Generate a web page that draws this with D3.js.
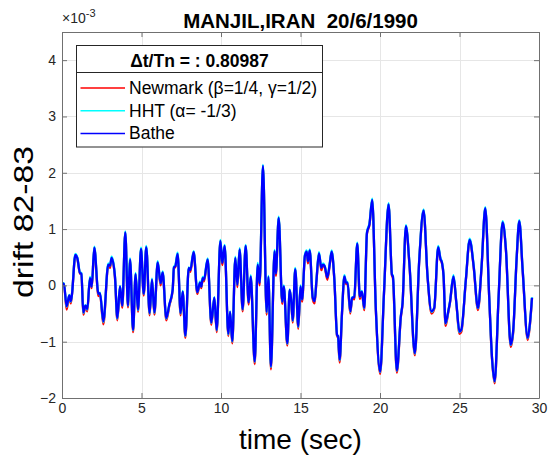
<!DOCTYPE html>
<html>
<head>
<meta charset="utf-8">
<script src="https://cdn.jsdelivr.net/npm/d3@7"></script>
<style>
  body { margin: 0; background: #fff; }
  svg { display: block; font-family: "Liberation Sans", Arial, Helvetica, sans-serif; }
</style>
</head>
<body>
<div id="chart"></div>
<script>
// time (sec)
const time = [0,0.12,0.29,0.46,0.55,0.62,0.84,0.96,1.13,1.22,
  1.34,1.47,1.59,1.76,1.87,2.03,2.29,2.39,2.6,2.91,
  3.02,3.12,3.33,3.48,3.65,3.79,3.98,4.15,4.28,4.47,
  4.63,4.78,4.97,5.14,5.3,5.51,5.66,5.81,6.02,6.2,
  6.33,6.56,6.75,6.96,7.04,7.13,7.27,7.46,7.59,7.76,
  7.97,8.07,8.28,8.51,8.68,8.76,8.85,8.93,9.16,9.39,
  9.58,9.73,9.96,10.08,10.23,10.46,10.57,10.71,10.9,11.03,
  11.17,11.36,11.55,11.74,11.87,12.12,12.31,12.43,12.64,12.87,
  12.98,13.14,13.37,13.45,13.63,13.85,13.95,14.17,14.32,14.42,
  14.51,14.67,14.86,15.0,15.1,15.28,15.39,15.47,15.58,15.77,
  15.89,16.0,16.16,16.31,16.42,16.52,16.69,16.84,16.96,17.13,
  17.3,17.36,17.46,17.61,17.76,17.86,17.96,18.13,18.25,18.38,
  18.57,18.73,18.86,19.01,19.18,19.34,19.51,19.74,20.01,20.25,
  20.54,20.75,20.81,21.06,21.31,21.42,21.63,21.86,22.19,22.47,
  22.74,22.99,23.24,23.41,23.66,23.8,23.9,24.0,24.12,24.3,
  24.4,24.62,24.8,25.0,25.12,25.4,25.64,25.89,26.16,26.39,
  26.62,26.87,27.04,27.21,27.46,27.71,27.92,28.22,28.38,28.59,
  28.76,28.97,29.29,29.43,29.56];

// drift values (x 1e-3)
const newmark = [0.03,0.03,-0.43,-0.18,-0.32,-0.18,0.53,0.48,0.21,0.2,
  -0.52,-0.37,-0.46,0.12,-0.05,0.66,-0.19,-0.16,-0.69,0.36,
  0.31,0.48,0.14,-0.62,-0.03,-0.4,0.93,-0.39,0.45,-0.83,
  0.19,-0.47,0.64,-0.18,0.67,-0.53,0.09,-0.52,0.4,0.0,
  0.22,-0.62,-0.36,-0.09,0.3,0.33,0.55,-0.53,-0.12,-0.93,
  0.3,0.24,0.58,-0.15,0.04,-0.05,0.12,0.07,0.45,-0.7,
  -0.23,-0.83,0.78,0.36,0.69,-0.9,-0.48,-1.03,0.48,-0.03,
  0.63,-0.46,0.69,-0.34,0.15,-1.4,0.35,0.0,2.11,-0.52,
  0.13,-1.49,0.6,0.17,1.19,-0.33,-0.03,-1.07,-0.09,-0.3,
  -0.66,0.28,-0.77,-0.03,-0.29,0.52,0.59,0.39,0.61,-0.24,
  -0.32,0.06,0.56,0.27,0.36,0.33,0.1,0.37,0.59,0.09,
  -0.9,-0.93,-1.37,-0.5,0.15,0.03,0.02,-0.5,-0.23,-0.25,
  0.73,-0.24,-0.12,-0.44,0.92,1.08,1.51,-0.45,-1.57,-0.15,
  1.43,0.18,0.13,-1.55,-0.57,-0.32,1.04,0.33,-1.24,0.45,
  1.32,0.15,-0.5,-0.42,0.67,0.46,0.39,0.15,-0.72,-0.47,
  -0.31,0.15,-0.32,-0.86,-0.82,0.09,0.8,0.33,-0.44,0.33,
  1.36,-0.23,-1.29,-1.74,-0.21,1.11,0.62,-1.09,-0.82,0.45,
  1.13,0.27,-0.97,-0.7,-0.23];

const hht = [0.04,0.04,-0.38,-0.17,-0.29,-0.17,0.56,0.5,0.23,0.22,
  -0.49,-0.35,-0.43,0.15,-0.02,0.69,-0.15,-0.13,-0.65,0.39,
  0.35,0.51,0.17,-0.59,-0.01,-0.36,0.96,-0.36,0.48,-0.8,
  0.22,-0.44,0.67,-0.15,0.7,-0.5,0.12,-0.49,0.43,0.04,
  0.25,-0.59,-0.34,-0.07,0.33,0.36,0.58,-0.5,-0.1,-0.9,
  0.32,0.28,0.61,-0.12,0.07,-0.02,0.15,0.11,0.48,-0.67,
  -0.21,-0.8,0.81,0.41,0.72,-0.87,-0.46,-1.0,0.51,0.01,
  0.66,-0.43,0.72,-0.3,0.18,-1.36,0.4,0.05,2.14,-0.48,
  0.17,-1.45,0.63,0.22,1.22,-0.29,0.0,-1.04,-0.07,-0.28,
  -0.63,0.31,-0.74,0.0,-0.25,0.55,0.62,0.44,0.64,-0.21,
  -0.28,0.09,0.59,0.32,0.39,0.35,0.15,0.4,0.62,0.11,
  -0.88,-0.91,-1.33,-0.48,0.18,0.06,0.06,-0.47,-0.21,-0.21,
  0.76,-0.2,-0.1,-0.41,0.95,1.11,1.54,-0.42,-1.54,-0.13,
  1.46,0.2,0.17,-1.52,-0.54,-0.3,1.07,0.36,-1.21,0.48,
  1.35,0.17,-0.47,-0.4,0.7,0.49,0.41,0.17,-0.68,-0.45,
  -0.29,0.18,-0.3,-0.83,-0.79,0.11,0.83,0.36,-0.41,0.36,
  1.39,-0.21,-1.27,-1.71,-0.19,1.14,0.65,-1.06,-0.8,0.48,
  1.16,0.3,-0.94,-0.68,-0.21];

const bathe = [0.03,0.03,-0.37,-0.18,-0.28,-0.18,0.54,0.49,0.22,0.21,
  -0.48,-0.36,-0.42,0.13,-0.02,0.67,-0.15,-0.14,-0.64,0.37,
  0.35,0.49,0.16,-0.58,-0.02,-0.36,0.94,-0.36,0.46,-0.79,
  0.2,-0.43,0.65,-0.15,0.68,-0.49,0.1,-0.48,0.41,0.04,
  0.23,-0.58,-0.34,-0.08,0.32,0.34,0.56,-0.49,-0.11,-0.89,
  0.31,0.27,0.59,-0.12,0.05,-0.02,0.13,0.1,0.46,-0.66,
  -0.22,-0.79,0.79,0.4,0.7,-0.86,-0.47,-0.99,0.49,0.01,
  0.64,-0.42,0.7,-0.3,0.16,-1.35,0.37,0.04,2.12,-0.47,
  0.15,-1.44,0.61,0.21,1.2,-0.29,-0.02,-1.03,-0.08,-0.28,
  -0.62,0.29,-0.73,-0.02,-0.25,0.53,0.6,0.43,0.62,-0.22,
  -0.28,0.07,0.57,0.31,0.37,0.34,0.14,0.38,0.6,0.1,
  -0.88,-0.9,-1.32,-0.49,0.16,0.05,0.05,-0.46,-0.22,-0.21,
  0.74,-0.2,-0.11,-0.4,0.93,1.09,1.52,-0.43,-1.53,-0.14,
  1.44,0.19,0.16,-1.51,-0.55,-0.31,1.05,0.34,-1.2,0.46,
  1.33,0.16,-0.46,-0.4,0.68,0.47,0.4,0.16,-0.67,-0.45,
  -0.3,0.16,-0.3,-0.82,-0.78,0.1,0.81,0.34,-0.4,0.34,
  1.37,-0.22,-1.26,-1.7,-0.2,1.12,0.63,-1.05,-0.79,0.46,
  1.14,0.28,-0.93,-0.67,-0.22];

const seriesNames = ["Newmark (β=1/4, γ=1/2)", "HHT (α= -1/3)", "Bathe"];
const seriesColors = ["#ff0000", "#00ffff", "#0000ff"];
const xTicks = [0, 5, 10, 15, 20, 25, 30];
const yTicks = [-2, -1, 0, 1, 2, 3, 4];

const W = 550, H = 461;
const m = { left: 62, right: 539, top: 32, bottom: 398 };

const svg = d3.select("#chart").append("svg")
  .attr("width", W)
  .attr("height", H);

svg.append("rect").attr("width", W).attr("height", H).attr("fill", "#fff");

const x = d3.scaleLinear().domain([0, 30]).range([m.left, m.right]);
const y = d3.scaleLinear().domain([-2, 4.5]).range([m.bottom, m.top]);

/* grid */
const grid = svg.append("g").attr("stroke", "#e6e6e6").attr("stroke-width", 1);
grid.selectAll("line.gx").data(xTicks.slice(1, -1)).enter().append("line")
  .attr("x1", d => Math.round(x(d)) + 0.5).attr("x2", d => Math.round(x(d)) + 0.5)
  .attr("y1", m.top).attr("y2", m.bottom);
grid.selectAll("line.gy").data(yTicks.slice(1)).enter().append("line")
  .attr("y1", d => Math.round(y(d)) + 0.5).attr("y2", d => Math.round(y(d)) + 0.5)
  .attr("x1", m.left).attr("x2", m.right);

/* lines: red, cyan, blue on top */
const line = d3.line()
  .x(d => x(d[0]))
  .y(d => y(d[1]))
  .curve(d3.curveMonotoneX);

[newmark, hht, bathe].forEach((vals, i) => {
  svg.append("path")
    .datum(time.map((t, k) => [t, vals[k]]))
    .attr("fill", "none")
    .attr("stroke", seriesColors[i])
    .attr("stroke-width", 2.3)
    .attr("stroke-linejoin", "round")
    .attr("d", line);
});

/* axes */
const axisColor = "#262626";
function styleAxis(g) {
  g.select(".domain").attr("stroke", "#707070");
  g.selectAll(".tick line").attr("stroke", "#707070");
  g.selectAll(".tick text").attr("fill", axisColor).style("font-size", "14px");
}

svg.append("g").attr("transform", `translate(0,${m.bottom})`)
  .call(d3.axisBottom(x).tickValues(xTicks).tickSizeInner(-5).tickSizeOuter(0).tickPadding(5).tickFormat(d3.format("d")))
  .call(styleAxis);
svg.append("g").attr("transform", `translate(0,${m.top})`)
  .call(d3.axisTop(x).tickValues(xTicks).tickSizeInner(-5).tickSizeOuter(0).tickFormat(""))
  .call(styleAxis);
svg.append("g").attr("transform", `translate(${m.left},0)`)
  .call(d3.axisLeft(y).tickValues(yTicks).tickSizeInner(-5).tickSizeOuter(0).tickPadding(6).tickFormat(d3.format("d")))
  .call(styleAxis);
svg.append("g").attr("transform", `translate(${m.right},0)`)
  .call(d3.axisRight(y).tickValues(yTicks).tickSizeInner(-5).tickSizeOuter(0).tickFormat(""))
  .call(styleAxis);

/* exponent */
const ex = svg.append("text").attr("x", 62).attr("y", 23)
  .attr("fill", axisColor).style("font-size", "14px");
ex.append("tspan").text("×10");
ex.append("tspan").attr("dy", -6).style("font-size", "11px").text("-3");

/* title and labels */
svg.append("text")
  .attr("x", (m.left + m.right) / 2).attr("y", 28)
  .attr("text-anchor", "middle")
  .style("font-size", "20.5px").style("font-weight", "bold").style("white-space", "pre")
  .text("MANJIL,IRAN  20/6/1990");

svg.append("text")
  .attr("x", (m.left + m.right) / 2).attr("y", 449)
  .attr("text-anchor", "middle")
  .style("font-size", "28px")
  .text("time (sec)");

svg.append("text")
  .attr("transform", "translate(33,222) rotate(-90)")
  .attr("text-anchor", "middle")
  .attr("textLength", 152).attr("lengthAdjust", "spacingAndGlyphs")
  .style("font-size", "28px")
  .text("drift 82-83");

/* legend */
const lg = svg.append("g");
lg.append("rect")
  .attr("x", 76.5).attr("y", 45.5).attr("width", 246).attr("height", 101.5)
  .attr("fill", "#fff").attr("stroke", axisColor).attr("stroke-width", 1);
lg.append("line")
  .attr("x1", 76.5).attr("x2", 322.5).attr("y1", 72.5).attr("y2", 72.5)
  .attr("stroke", axisColor).attr("stroke-width", 1);
lg.append("text")
  .attr("x", 199.5).attr("y", 66.5).attr("text-anchor", "middle")
  .style("font-size", "17.5px").style("font-weight", "bold")
  .text("Δt/Tn = : 0.80987");

seriesNames.forEach((name, i) => {
  const yy = 94 + i * 22.7;
  lg.append("line")
    .attr("x1", 80.5).attr("x2", 125).attr("y1", yy - 6).attr("y2", yy - 6)
    .attr("stroke", seriesColors[i]).attr("stroke-width", 1.5);
  lg.append("text")
    .attr("x", 129).attr("y", yy)
    .style("font-size", "17.5px").attr("fill", "#000")
    .text(name);
});
</script>
</body>
</html>
